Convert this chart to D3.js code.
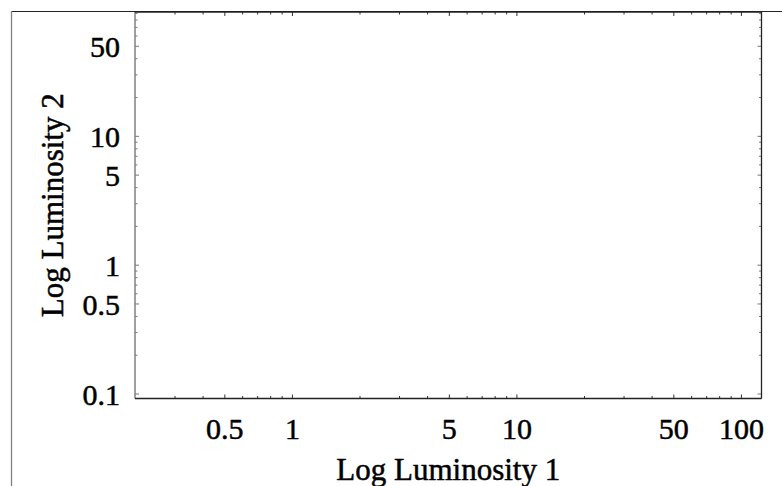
<!doctype html>

<html>
    <head>
        <meta charset="UTF-8">
        <title>Log Luminosity</title>
        <script src="https://cdn.jsdelivr.net/npm/d3@7"></script>
        <style>
            body { margin: 0; background: #ffffff; }
            svg text {
                font-family: "Liberation Serif", "DejaVu Serif", serif;
                fill: #000000;
                stroke: #000000;
                stroke-width: 0.5px;
            }
            .ticklabel text { font-size: 30px; }
        </style>
    </head>

    <body>
        <div id="chart"></div>

        <script>
            // axis ranges (log scales)
            const xDomain = [0.2, 123.5];
            const yDomain = [0.0915, 91.4];

            // labelled (major) and unlabelled (minor) ticks
            const xMajorTicks = [0.5, 1, 5, 10, 50, 100];
            const xMinorTicks = [0.3, 0.4, 0.6, 0.7, 0.8, 0.9, 2, 3, 4, 6, 7, 8, 9, 20, 30, 40, 60, 70, 80, 90];
            const yMajorTicks = [0.1, 0.5, 1, 5, 10, 50];
            const yMinorTicks = [0.2, 0.3, 0.4, 0.6, 0.7, 0.8, 0.9, 2, 3, 4, 6, 7, 8, 9, 20, 30, 40, 60, 70, 80, 90];

            const xTitle = "Log Luminosity 1";
            const yTitle = "Log Luminosity 2";

            const width = 782, height = 486;
            const plot = { left: 135, right: 761.5, top: 12, bottom: 398.5 };

            const x = d3.scaleLog().domain(xDomain).range([plot.left, plot.right]);
            const y = d3.scaleLog().domain(yDomain).range([plot.bottom, plot.top]);

            const fmt = d => String(d);

            const svg = d3.select("#chart")
                .append("svg")
                .attr("width", width)
                .attr("height", height);

            // outer frame (top + left edge only)
            svg.append("line")
                .attr("x1", 11.5).attr("y1", 11.5)
                .attr("x2", width).attr("y2", 11.5)
                .attr("stroke", "#222").attr("stroke-width", 1);
            svg.append("line")
                .attr("x1", 11.5).attr("y1", 11.5)
                .attr("x2", 11.5).attr("y2", height)
                .attr("stroke", "#808080").attr("stroke-width", 1.3);

            // inward ticks on all four sides
            function ticks(axisFn, scale, values, size, pos, color, labels) {
                const g = svg.append("g")
                    .attr("transform", pos)
                    .call(axisFn(scale)
                        .tickValues(values)
                        .tickSize(-size)
                        .tickSizeOuter(0)
                        .tickFormat(labels ? fmt : ""));
                g.select(".domain").remove();
                g.attr("font-size", null).attr("font-family", null);
                if (labels) g.classed("ticklabel", true);
                g.selectAll(".tick line").attr("stroke", color).attr("stroke-width", 1);
                return g;
            }

            ticks(d3.axisBottom, x, xMinorTicks, 2.5, `translate(0,${plot.bottom})`, "#333", false);
            const xAx = ticks(d3.axisBottom, x, xMajorTicks, 4, `translate(0,${plot.bottom})`, "#333", true);
            xAx.selectAll(".tick text")
                .attr("y", 40).attr("dy", 0);

            ticks(d3.axisTop, x, xMinorTicks, 2.5, `translate(0,${plot.top})`, "#333", false);
            ticks(d3.axisTop, x, xMajorTicks, 4, `translate(0,${plot.top})`, "#333", false);

            ticks(d3.axisLeft, y, yMinorTicks, 2.5, `translate(${plot.left},0)`, "#777", false);
            const yAx = ticks(d3.axisLeft, y, yMajorTicks, 4, `translate(${plot.left},0)`, "#777", true);
            yAx.selectAll(".tick text")
                .attr("x", -15).attr("dy", 11);

            ticks(d3.axisRight, y, yMinorTicks, 2.5, `translate(${plot.right},0)`, "#777", false);
            ticks(d3.axisRight, y, yMajorTicks, 4, `translate(${plot.right},0)`, "#777", false);

            // plot frame
            svg.append("line")
                .attr("x1", plot.left).attr("y1", plot.top).attr("x2", plot.left).attr("y2", plot.bottom)
                .attr("stroke", "#808080").attr("stroke-width", 1.5);
            svg.append("line")
                .attr("x1", plot.left).attr("y1", plot.bottom).attr("x2", plot.right).attr("y2", plot.bottom)
                .attr("stroke", "#222").attr("stroke-width", 1.3);
            svg.append("line")
                .attr("x1", plot.right).attr("y1", plot.top).attr("x2", plot.right).attr("y2", plot.bottom)
                .attr("stroke", "#222").attr("stroke-width", 1.3);
            svg.append("line")
                .attr("x1", plot.left).attr("y1", plot.top).attr("x2", plot.right).attr("y2", plot.top)
                .attr("stroke", "#222").attr("stroke-width", 1.3);

            // axis titles
            svg.append("text")
                .attr("x", (plot.left + plot.right) / 2)
                .attr("y", 480)
                .attr("text-anchor", "middle")
                .style("font-size", "31px")
                .text(xTitle);

            svg.append("text")
                .attr("transform", `translate(63,${(plot.top + plot.bottom) / 2}) rotate(-90)`)
                .attr("text-anchor", "middle")
                .style("font-size", "31px")
                .text(yTitle);
        </script>
    </body>
</html>
